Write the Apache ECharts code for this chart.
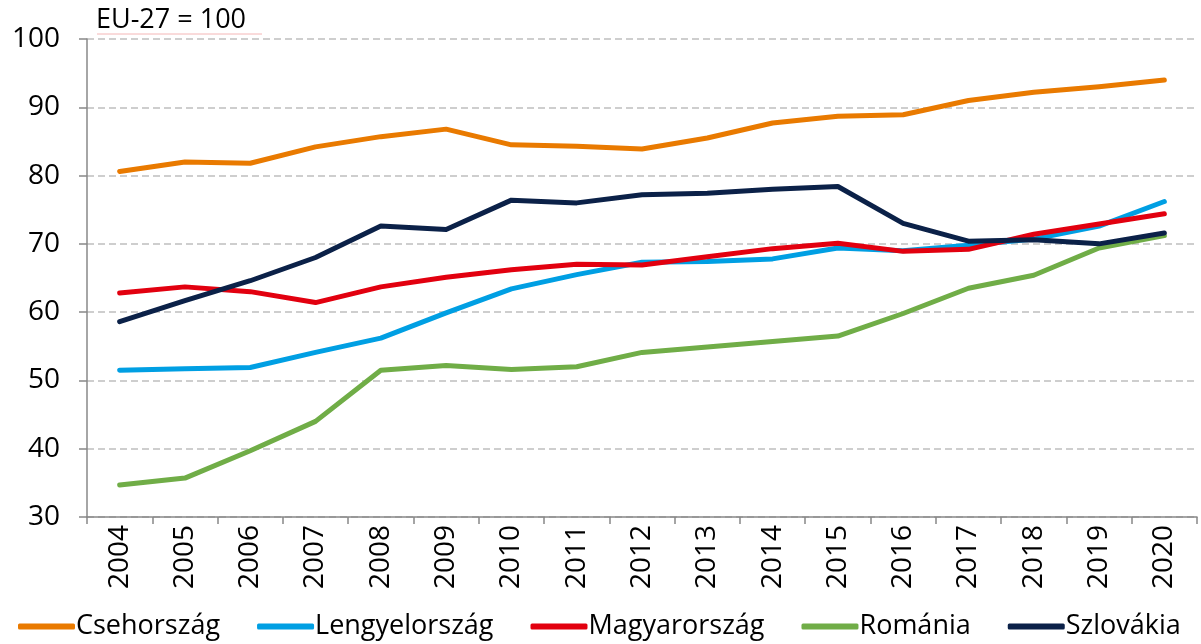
<!DOCTYPE html>
<html>
<head>
<meta charset="utf-8">
<script src="https://cdn.jsdelivr.net/npm/echarts@6/dist/echarts.min.js"></script>
<style>
  html, body { margin: 0; padding: 0; background: #fff; }
  #chart { width: 1201px; height: 644px; }
</style>
</head>
<body>
<div id="chart"></div>
<script>
// évek
const years = ['2004','2005','2006','2007','2008','2009','2010','2011','2012','2013','2014','2015','2016','2017','2018','2019','2020'];

const cseh =     [80.6, 82.0, 81.8, 84.2, 85.7, 86.8, 84.5, 84.3, 83.9, 85.5, 87.7, 88.7, 88.9, 91.0, 92.2, 93.0, 94.0];
const lengyel =  [51.5, 51.7, 51.9, 54.1, 56.2, 59.9, 63.4, 65.5, 67.3, 67.4, 67.8, 69.4, 69.0, 69.8, 70.7, 72.6, 76.2];
const magyar =   [62.8, 63.7, 63.0, 61.4, 63.7, 65.1, 66.2, 67.0, 66.9, 68.1, 69.3, 70.1, 68.9, 69.2, 71.4, 72.9, 74.4];
const roman =    [34.7, 35.7, 39.7, 44.0, 51.5, 52.2, 51.6, 52.0, 54.1, 54.9, 55.7, 56.5, 59.8, 63.5, 65.4, 69.4, 71.2];
const szlovak =  [58.6, 61.7, 64.6, 68.0, 72.6, 72.1, 76.4, 76.0, 77.2, 77.4, 78.0, 78.4, 73.0, 70.4, 70.6, 70.0, 71.6];

const names = ['Csehország', 'Lengyelország', 'Magyarország', 'Románia', 'Szlovákia'];
const colors = ['#E97A00', '#009FE3', '#E2000F', '#70AD47', '#0B2148'];

const yTicks = { min: 30, max: 100, step: 10 };

const font = '"Open Sans", sans-serif';

const chart = echarts.init(document.getElementById('chart'));

function line(name, data, color) {
  return {
    name: name,
    type: 'line',
    data: data,
    symbol: 'none',
    color: color,
    lineStyle: { width: 5, color: color, cap: 'round', join: 'round' },
    emphasis: { disabled: true }
  };
}

let option = {
  animation: false,
  textStyle: { fontFamily: font },
  grid: { left: 87, right: 4, top: 39, bottom: 127, containLabel: false },
  graphic: [
    {
      type: 'text',
      left: 96,
      top: 7,
      style: { text: 'EU-27 = 100', fontSize: 27, fontFamily: font, fill: '#000' }
    },
    {
      type: 'line',
      shape: { x1: 97, y1: 34, x2: 262, y2: 34 },
      style: { stroke: '#F4B6B6', lineWidth: 1 }
    }
  ],
  legend: {
    bottom: 4,
    left: 18,
    width: 1183,
    padding: 0,
    itemWidth: 57,
    itemHeight: 6,
    itemGap: 37,
    icon: 'roundRect',
    textStyle: { fontSize: 27, fontFamily: font, color: '#000', padding: [0, 0, 0, -4] },
    data: names
  },
  xAxis: {
    type: 'category',
    data: years,
    boundaryGap: true,
    axisLine: { lineStyle: { color: '#888', width: 1.5 } },
    axisTick: { show: true, length: 7, lineStyle: { color: '#888', width: 1.5 } },
    axisLabel: { rotate: 90, fontSize: 28, color: '#000', margin: 8, fontFamily: font }
  },
  yAxis: {
    type: 'value',
    min: yTicks.min,
    max: yTicks.max,
    interval: yTicks.step,
    axisLine: { show: true, lineStyle: { color: '#888', width: 1.5 } },
    axisTick: { show: true, length: 8, lineStyle: { color: '#888', width: 1.5 } },
    axisLabel: { fontSize: 28, color: '#000', margin: 27, fontFamily: font },
    splitLine: { lineStyle: { color: '#BFBFBF', width: 1.5, type: [7, 4] } }
  },
  series: [
    line(names[0], cseh, colors[0]),
    line(names[1], lengyel, colors[1]),
    line(names[2], magyar, colors[2]),
    line(names[3], roman, colors[3]),
    line(names[4], szlovak, colors[4])
  ]
};

chart.setOption(option);
</script>
</body>
</html>
